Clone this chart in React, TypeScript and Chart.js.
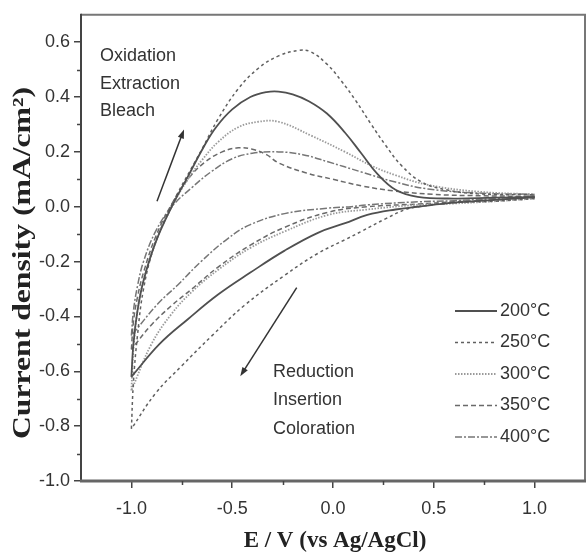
import React, { useEffect, useRef } from "react";
import { Chart, registerables } from "chart.js";

Chart.register(...registerables);

// ---------- data (E in V vs Ag/AgCl, J in mA/cm²) ----------
const LABELS = ["200°C", "250°C", "300°C", "350°C", "400°C"];

// anodic sweeps (-1.0 -> 1.0)
const E_200_OX = [-1.0, -0.99, -0.97, -0.94, -0.88, -0.8, -0.72, -0.64, -0.58, -0.5, -0.41, -0.33, -0.27, -0.2, -0.12, -0.03, 0.06, 0.14, 0.22, 0.31, 0.42, 0.6, 0.8, 1.0];
const J_200_OX = [-0.62, -0.5, -0.38, -0.27, -0.13, 0.0, 0.11, 0.22, 0.29, 0.355, 0.4, 0.418, 0.42, 0.41, 0.385, 0.34, 0.27, 0.195, 0.12, 0.062, 0.036, 0.03, 0.033, 0.035];

const E_250_OX = [-1.0, -0.99, -0.97, -0.94, -0.89, -0.83, -0.77, -0.71, -0.65, -0.57, -0.47, -0.37, -0.27, -0.17, -0.11, -0.03, 0.04, 0.11, 0.19, 0.26, 0.34, 0.44, 0.56, 0.72, 1.0];
const J_250_OX = [-0.81, -0.64, -0.47, -0.3, -0.15, -0.04, 0.05, 0.13, 0.21, 0.32, 0.43, 0.505, 0.55, 0.57, 0.565, 0.52, 0.46, 0.39, 0.3, 0.225, 0.15, 0.09, 0.062, 0.047, 0.044];

const E_300_OX = [-1.0, -0.99, -0.97, -0.94, -0.88, -0.8, -0.72, -0.65, -0.57, -0.47, -0.37, -0.27, -0.11, 0.06, 0.19, 0.31, 0.47, 0.72, 1.0];
const J_300_OX = [-0.67, -0.52, -0.38, -0.27, -0.13, 0.0, 0.1, 0.17, 0.236, 0.29, 0.31, 0.31, 0.26, 0.2, 0.15, 0.115, 0.08, 0.055, 0.045];

const E_350_OX = [-1.0, -0.99, -0.97, -0.94, -0.88, -0.8, -0.72, -0.64, -0.55, -0.47, -0.4, -0.33, -0.27, -0.14, 0.0, 0.15, 0.3, 0.5, 0.75, 1.0];
const J_350_OX = [-0.52, -0.42, -0.33, -0.24, -0.11, 0.01, 0.1, 0.16, 0.2, 0.215, 0.21, 0.19, 0.16, 0.125, 0.1, 0.075, 0.058, 0.045, 0.04, 0.038];

const E_400_OX = [-1.0, -0.99, -0.97, -0.94, -0.88, -0.8, -0.7, -0.6, -0.5, -0.4, -0.27, -0.15, -0.025, 0.14, 0.31, 0.47, 0.72, 1.0];
const J_400_OX = [-0.47, -0.38, -0.29, -0.2, -0.09, 0.0, 0.07, 0.13, 0.175, 0.195, 0.2, 0.19, 0.164, 0.127, 0.09, 0.065, 0.05, 0.045];

// cathodic sweeps (1.0 -> -1.0)
const E_200_RED = [1.0, 0.8, 0.6, 0.42, 0.31, 0.17, 0.06, -0.075, -0.24, -0.41, -0.57, -0.72, -0.86, -1.0];
const J_200_RED = [0.035, 0.025, 0.015, 0.0, -0.01, -0.03, -0.06, -0.095, -0.16, -0.24, -0.32, -0.41, -0.5, -0.62];

const E_250_RED = [1.0, 0.8, 0.6, 0.42, 0.36, 0.26, 0.14, 0.06, -0.075, -0.24, -0.44, -0.6, -0.75, -0.88, -1.0];
const J_250_RED = [0.03, 0.02, 0.015, 0.0, -0.01, -0.044, -0.09, -0.12, -0.17, -0.25, -0.36, -0.47, -0.58, -0.68, -0.81];

const E_300_RED = [1.0, 0.8, 0.6, 0.42, 0.17, -0.025, -0.24, -0.41, -0.57, -0.7, -0.8, -0.9, -1.0];
const J_300_RED = [0.03, 0.02, 0.012, 0.007, -0.01, -0.03, -0.09, -0.15, -0.23, -0.31, -0.39, -0.5, -0.67];

const E_350_RED = [1.0, 0.8, 0.6, 0.42, 0.17, -0.025, -0.24, -0.41, -0.57, -0.7, -0.8, -0.9, -1.0];
const J_350_RED = [0.035, 0.025, 0.018, 0.01, 0.0, -0.02, -0.075, -0.14, -0.22, -0.3, -0.36, -0.43, -0.52];

const E_400_RED = [1.0, 0.8, 0.6, 0.42, 0.17, 0.09, -0.025, -0.24, -0.41, -0.52, -0.655, -0.77, -0.87, -1.0];
const J_400_RED = [0.04, 0.03, 0.022, 0.018, 0.007, 0.0, -0.005, -0.025, -0.065, -0.115, -0.2, -0.285, -0.355, -0.47];

const X_TICKS = [-1.0, -0.5, 0.0, 0.5, 1.0];
const X_MINOR = [-0.75, -0.25, 0.25, 0.75];
const Y_TICKS = [-1.0, -0.8, -0.6, -0.4, -0.2, 0.0, 0.2, 0.4, 0.6];
const Y_MINOR = [-0.9, -0.7, -0.5, -0.3, -0.1, 0.1, 0.3, 0.5];

const OX_TEXT = ["Oxidation", "Extraction", "Bleach"];
const RED_TEXT = ["Reduction", "Insertion", "Coloration"];

// ---------- styles ----------
const STYLES = [
  { color: "#505050", dash: [] as number[], width: 1.8 },
  { color: "#606060", dash: [3, 3], width: 1.5 },
  { color: "#9a9a9a", dash: [1.5, 1.5], width: 1.8 },
  { color: "#6a6a6a", dash: [5, 3], width: 1.5 },
  { color: "#767676", dash: [7, 2, 2, 2], width: 1.5 },
];

const BRANCHES = [
  [E_200_OX, J_200_OX, E_200_RED, J_200_RED],
  [E_250_OX, J_250_OX, E_250_RED, J_250_RED],
  [E_300_OX, J_300_OX, E_300_RED, J_300_RED],
  [E_350_OX, J_350_OX, E_350_RED, J_350_RED],
  [E_400_OX, J_400_OX, E_400_RED, J_400_RED],
];

const zip = (xs: number[], ys: number[]) => xs.map((x, i) => ({ x, y: ys[i] }));

const SANS = '"Liberation Sans", Arial, sans-serif';
const SERIF = '"Liberation Serif", "Times New Roman", serif';

function drawArrow(ctx: CanvasRenderingContext2D, x1: number, y1: number, x2: number, y2: number) {
  const ang = Math.atan2(y2 - y1, x2 - x1);
  const hl = 9, hw = 3.2;
  ctx.save();
  ctx.strokeStyle = "#333";
  ctx.fillStyle = "#333";
  ctx.lineWidth = 1.5;
  ctx.beginPath();
  ctx.moveTo(x1, y1);
  ctx.lineTo(x2 - Math.cos(ang) * hl * 0.7, y2 - Math.sin(ang) * hl * 0.7);
  ctx.stroke();
  ctx.beginPath();
  ctx.moveTo(x2, y2);
  ctx.lineTo(x2 - Math.cos(ang) * hl - Math.sin(ang) * hw, y2 - Math.sin(ang) * hl + Math.cos(ang) * hw);
  ctx.lineTo(x2 - Math.cos(ang) * hl + Math.sin(ang) * hw, y2 - Math.sin(ang) * hl - Math.cos(ang) * hw);
  ctx.closePath();
  ctx.fill();
  ctx.restore();
}

const decorPlugin = {
  id: "decor",
  afterDatasetsDraw(chart: any) {
    const { ctx, chartArea: ca, scales } = chart;
    const xs = scales.x, ys = scales.y;
    const px = (v: number) => xs.getPixelForValue(v);
    const py = (v: number) => ys.getPixelForValue(v);
    ctx.save();

    // frame
    ctx.strokeStyle = "#777";
    ctx.lineWidth = 2;
    ctx.beginPath();
    ctx.moveTo(ca.left, ca.top);
    ctx.lineTo(ca.right, ca.top);
    ctx.lineTo(ca.right, ca.bottom);
    ctx.stroke();
    ctx.strokeStyle = "#444";
    ctx.lineWidth = 2;
    ctx.beginPath();
    ctx.moveTo(ca.left, ca.top - 1);
    ctx.lineTo(ca.left, ca.bottom);
    ctx.stroke();
    ctx.strokeStyle = "#666";
    ctx.lineWidth = 3;
    ctx.beginPath();
    ctx.moveTo(ca.left - 1, ca.bottom);
    ctx.lineTo(ca.right + 1, ca.bottom);
    ctx.stroke();

    // minor ticks
    ctx.strokeStyle = "#444";
    ctx.lineWidth = 1.5;
    ctx.beginPath();
    X_MINOR.forEach((v) => {
      const x = Math.round(px(v)) + 0.5;
      ctx.moveTo(x, ca.bottom);
      ctx.lineTo(x, ca.bottom + 4);
    });
    Y_MINOR.forEach((v) => {
      const y = Math.round(py(v)) + 0.5;
      ctx.moveTo(ca.left, y);
      ctx.lineTo(ca.left - 4, y);
    });
    ctx.stroke();

    // arrows
    drawArrow(ctx, px(-0.873), py(0.02), px(-0.739), py(0.282));
    drawArrow(ctx, px(-0.18), py(-0.295), px(-0.46), py(-0.618));

    // annotation text
    ctx.fillStyle = "#333";
    ctx.font = `18px ${SANS}`;
    ctx.textAlign = "left";
    ctx.textBaseline = "middle";
    const oxY = [0.551, 0.449, 0.348];
    OX_TEXT.forEach((t, i) => ctx.fillText(t, px(-1.156), py(oxY[i])));
    const redY = [-0.604, -0.706, -0.811];
    RED_TEXT.forEach((t, i) => ctx.fillText(t, px(-0.298), py(redY[i])));

    // legend
    LABELS.forEach((lab, i) => {
      const y = 311 + i * 31.5;
      const st = STYLES[i];
      ctx.strokeStyle = st.color;
      ctx.lineWidth = st.width;
      ctx.setLineDash(st.dash);
      ctx.beginPath();
      ctx.moveTo(455, y);
      ctx.lineTo(497, y);
      ctx.stroke();
      ctx.setLineDash([]);
      ctx.fillStyle = "#333";
      ctx.fillText(lab, 500, y);
    });

    // axis titles
    ctx.fillStyle = "#222";
    ctx.font = `bold 23px ${SERIF}`;
    ctx.textAlign = "center";
    ctx.textBaseline = "alphabetic";
    ctx.fillText("E / V (vs Ag/AgCl)", 335, 547);

    const yTitle = "Current density (mA/cm²)";
    ctx.save();
    ctx.font = `bold 25px ${SERIF}`;
    const w = ctx.measureText(yTitle).width;
    const targetLen = 352;
    ctx.translate(30, 263);
    ctx.rotate(-Math.PI / 2);
    ctx.scale(targetLen / w, 1);
    ctx.textBaseline = "alphabetic";
    ctx.fillText(yTitle, 0, 0);
    ctx.restore();

    ctx.restore();
  },
};

export default function App() {
  const ref = useRef<HTMLCanvasElement | null>(null);

  useEffect(() => {
    if (!ref.current) return;
    const datasets: any[] = [];
    BRANCHES.forEach((b, i) => {
      const st = STYLES[i];
      [zip(b[0], b[1]), zip(b[2], b[3])].forEach((data) => {
        datasets.push({
          label: LABELS[i],
          data,
          borderColor: st.color,
          borderWidth: st.width,
          borderDash: st.dash,
          pointRadius: 0,
          tension: 0.4,
          fill: false,
        });
      });
    });

    const chart = new Chart(ref.current, {
      type: "line",
      data: { datasets },
      options: {
        responsive: false,
        animation: false,
        devicePixelRatio: 1,
        layout: { padding: { top: 13, right: 2, left: 0, bottom: 0 } },
        plugins: { legend: { display: false }, tooltip: { enabled: false } },
        scales: {
          x: {
            type: "linear",
            min: -1.25,
            max: 1.25,
            afterBuildTicks: (s: any) => {
              s.ticks = X_TICKS.map((v) => ({ value: v }));
            },
            afterFit: (s: any) => {
              s.height = 73;
            },
            ticks: {
              autoSkip: false,
              maxRotation: 0,
              padding: 10,
              color: "#333",
              font: { family: SANS, size: 18 },
              callback: (v: any) => Number(v).toFixed(1),
            },
            grid: { display: true, drawOnChartArea: false, drawTicks: true, tickLength: 7, color: "#444", lineWidth: 1.5 },
            border: { display: false },
          },
          y: {
            type: "linear",
            min: -1.0,
            max: 0.7,
            afterBuildTicks: (s: any) => {
              s.ticks = Y_TICKS.map((v) => ({ value: v }));
            },
            afterFit: (s: any) => {
              s.width = 81;
            },
            ticks: {
              autoSkip: false,
              padding: 4,
              color: "#333",
              font: { family: SANS, size: 18 },
              callback: (v: any) => Number(v).toFixed(1),
            },
            grid: { display: true, drawOnChartArea: false, drawTicks: true, tickLength: 7, color: "#444", lineWidth: 1.5 },
            border: { display: false },
          },
        },
      },
      plugins: [decorPlugin],
    });
    return () => chart.destroy();
  }, []);

  return (
    <div style={{ position: "absolute", left: 0, top: 0, width: 587, height: 554, background: "#fff" }}>
      <canvas ref={ref} width={587} height={554} style={{ display: "block" }} />
    </div>
  );
}
